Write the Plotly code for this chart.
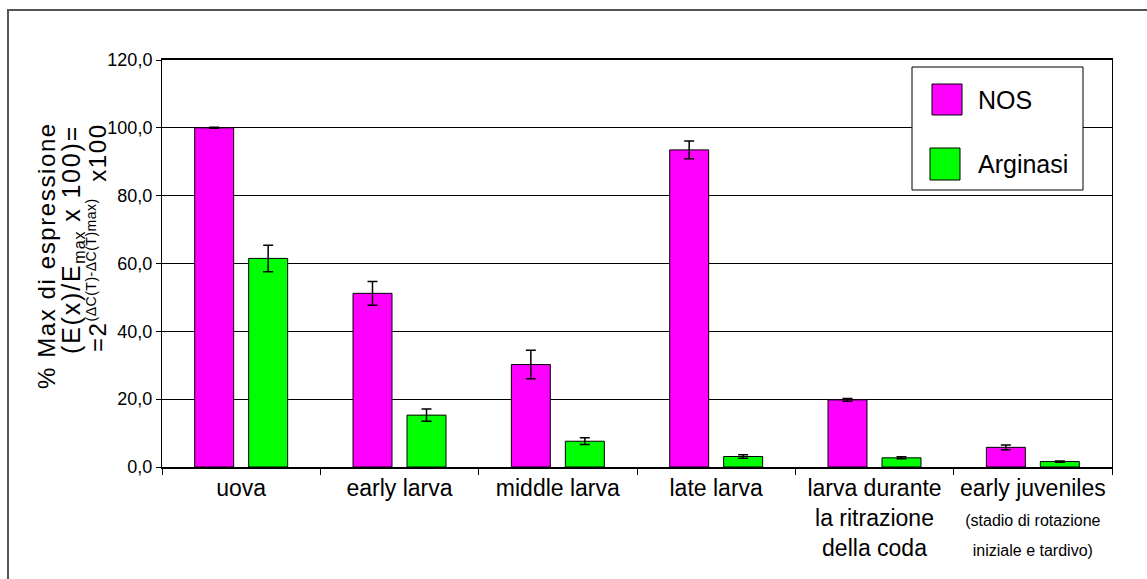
import plotly.graph_objects as go

# Developmental stages (x categories) and their axis labels
categories = [
    "uova",
    "early larva",
    "middle larva",
    "late larva",
    "larva durante la ritrazione della coda",
    "early juveniles (stadio di rotazione iniziale e tardivo)",
]
category_labels = [
    "uova",
    "early larva",
    "middle larva",
    "late larva",
    "larva durante<br>la ritrazione<br>della coda",
    "early juveniles<br><span style='font-size:16px'>(stadio di rotazione<br>iniziale e tardivo)</span>",
]

# % of maximum expression, with standard errors
nos_values = [100.0, 51.2, 30.2, 93.5, 19.8, 5.8]
nos_errors = [0.15, 3.5, 4.2, 2.6, 0.4, 0.7]
arginasi_values = [61.5, 15.3, 7.6, 3.1, 2.7, 1.6]
arginasi_errors = [3.9, 1.8, 1.0, 0.5, 0.3, 0.2]

series_names = ["NOS", "Arginasi"]
series_colors = ["#FF00FF", "#00FF00"]

y_tick_values = [0, 20, 40, 60, 80, 100, 120]
y_tick_text = ["0,0", "20,0", "40,0", "60,0", "80,0", "100,0", "120,0"]

# y-axis title lines: (text, font size, letter spacing, centre x px, centre y px)
y_title_lines = [
    ("% Max di espressione", 24, 1.6, 46, 256),
    ("(E(x)/E<sub><span style='font-size:16px;letter-spacing:1px'>max</span></sub> x 100)=",
     25, 1.8, 72, 240),
    ("=2<sup><span style='font-size:14px;letter-spacing:0.5px'>(\u0394C(T)-\u0394C(T)max)</span></sup>  x100",
     24, 1.6, 97, 238),
]

FONT = "Liberation Sans, Arial, sans-serif"

# plot area in pixels
W, H = 1147, 579
L, R, T, B = 162, 1112, 60, 467


def px_x(px):
    return (px - L) / (R - L)


def px_y(py):
    return (B - py) / (B - T)


fig = go.Figure()
for name, vals, errs, color in [
    (series_names[0], nos_values, nos_errors, series_colors[0]),
    (series_names[1], arginasi_values, arginasi_errors, series_colors[1]),
]:
    fig.add_trace(
        go.Bar(
            name=name,
            x=categories,
            y=vals,
            marker=dict(color=color, line=dict(color="black", width=1)),
            error_y=dict(type="data", array=errs, visible=True,
                         color="black", thickness=1.5, width=5),
            showlegend=False,
        )
    )

shapes = []
# outer chart frame
shapes.append(dict(type="rect", xref="paper", yref="paper",
                   x0=px_x(8), x1=px_x(1160), y0=px_y(590), y1=px_y(10),
                   line=dict(color="#555555", width=2), fillcolor="rgba(0,0,0,0)",
                   layer="above"))
# legend box
shapes.append(dict(type="rect", xref="paper", yref="paper",
                   x0=px_x(912), x1=px_x(1083), y0=px_y(190), y1=px_y(67),
                   line=dict(color="black", width=1), fillcolor="white",
                   layer="above"))
annotations = []
legend_rows = [(84, 115, 932), (148, 180, 930)]
for (y0, y1, x0), name, color in zip(legend_rows, series_names, series_colors):
    shapes.append(dict(type="rect", xref="paper", yref="paper",
                       x0=px_x(x0), x1=px_x(x0 + 30), y0=px_y(y1), y1=px_y(y0),
                       line=dict(color="black", width=1), fillcolor=color,
                       layer="above"))
    annotations.append(dict(xref="paper", yref="paper",
                            x=px_x(976), y=px_y((y0 + y1) / 2),
                            text=name, showarrow=False, xanchor="left",
                            yanchor="middle",
                            font=dict(family=FONT, size=25, color="black")))

# y-axis title, one rotated line each
for text, size, spacing, cx, cy in y_title_lines:
    annotations.append(dict(
        xref="paper", yref="paper", x=px_x(cx), y=px_y(cy),
        text="<span style='letter-spacing:%.1fpx'>%s</span>" % (spacing, text),
        textangle=-90, showarrow=False, xanchor="center", yanchor="middle",
        font=dict(family=FONT, size=size, color="black")))

fig.update_layout(
    width=W, height=H,
    margin=dict(l=L, r=W - R, t=T, b=H - B),
    paper_bgcolor="white", plot_bgcolor="white",
    barmode="group", bargap=0.318, bargroupgap=0.278,
    font=dict(family=FONT, color="black"),
    shapes=shapes, annotations=annotations,
)
fig.update_xaxes(
    tickvals=categories, ticktext=category_labels, tickson="boundaries",
    ticks="outside", ticklen=6, tickcolor="black",
    showline=True, linecolor="black", linewidth=1.5, mirror=True,
    tickfont=dict(family=FONT, size=23, color="black"), tickangle=0,
    showgrid=False,
)
fig.update_yaxes(
    range=[0, 120], tickvals=y_tick_values, ticktext=y_tick_text,
    ticks="outside", ticklen=5, tickcolor="black",
    showline=True, linecolor="black", linewidth=1, mirror=True,
    showgrid=True, gridcolor="black", gridwidth=1,
    tickfont=dict(family=FONT, size=18, color="black"),
    zeroline=False,
)

fig.write_html("out.html")
